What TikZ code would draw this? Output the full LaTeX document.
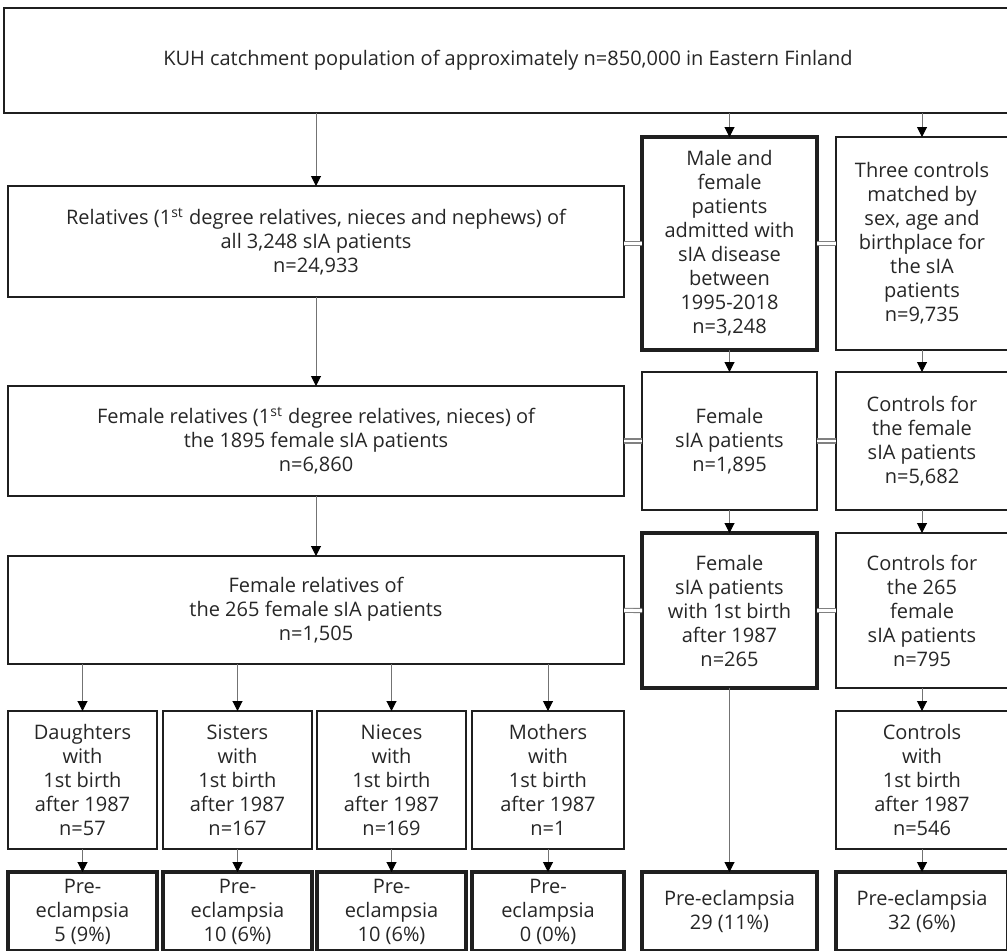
\documentclass[tikz,border=0pt]{standalone}
\usepackage{fontspec}
\setmainfont{Open Sans}
\usetikzlibrary{arrows.meta}
\begin{document}
\begin{tikzpicture}[x=0.5pt,y=-0.5pt,inner sep=0pt,outer sep=0pt,
  box/.style={draw=black!88,line width=0.75pt,align=center,text=black!85,font=\fontsize{10}{12}\selectfont},
  boldbox/.style={box,line width=2pt},
  wide/.style={minimum width=308pt},
  mid/.style={minimum width=87.5pt},
  ctlw/.style={minimum width=86pt},
  small/.style={minimum width=74.5pt},
  arr/.style={draw=black!55,line width=0.5pt,-{Triangle[length=5pt,width=5pt,color=black]}},
  dbl/.style={draw=black!50,line width=0.6pt,double=white,double distance=1.4pt}]
\useasboundingbox (0,0) rectangle (1007,950);
\clip (0,0) rectangle (1007,950);
\node[box,minimum width=504pt,minimum height=52.5pt] (top) at (508,60.5) {KUH catchment population of approximately n=850,000 in Eastern Finland};
\node[box,wide,minimum height=55.5pt] (rel) at (316,241.5) {Relatives (1\textsuperscript{st} degree relatives, nieces and nephews) of\\all 3,248 sIA patients\\n=24,933};
\node[boldbox,mid,minimum height=106.5pt] (male) at (729.5,243.5) {Male and\\female\\patients\\admitted with\\sIA disease\\between\\1995-2018\\n=3,248};
\node[box,ctlw,minimum height=106.5pt] (ctl) at (922,243.5) {Three controls\\matched by\\sex, age and\\birthplace for\\the sIA\\patients\\n=9,735};
\node[box,wide,minimum height=55pt] (frel) at (316,441) {Female relatives (1\textsuperscript{st} degree relatives, nieces) of\\the 1895 female sIA patients\\n=6,860};
\node[box,mid,minimum height=69pt] (fsia) at (729.5,441) {Female\\sIA patients\\n=1,895};
\node[box,ctlw,minimum height=69pt] (fctl) at (922,441) {Controls for\\the female\\sIA patients\\n=5,682};
\node[box,wide,minimum height=54pt] (frelb) at (316,610) {Female relatives of\\the 265 female sIA patients\\n=1,505};
\node[boldbox,mid,minimum height=77.5pt] (fsiab) at (729.5,610.5) {Female\\sIA patients\\with 1st birth\\after 1987\\n=265};
\node[box,ctlw,minimum height=77.5pt] (fctlb) at (922,610.5) {Controls for\\the 265\\female\\sIA patients\\n=795};
\node[box,small,minimum height=69pt] (dau) at (82.5,780) {Daughters\\with\\1st birth\\after 1987\\n=57};
\node[box,small,minimum height=69pt] (sis) at (237.5,780) {Sisters\\with\\1st birth\\after 1987\\n=167};
\node[box,small,minimum height=69pt] (nie) at (391.5,780) {Nieces\\with\\1st birth\\after 1987\\n=169};
\node[box,minimum width=76pt,minimum height=69pt] (mot) at (548,780) {Mothers\\with\\1st birth\\after 1987\\n=1};
\node[box,ctlw,minimum height=69pt] (cbir) at (922,780) {Controls\\with\\1st birth\\after 1987\\n=546};
\node[boldbox,small,minimum height=39.5pt] (daupe) at (82.5,911.5) {Pre-\\eclampsia\\5 (9\%)};
\node[boldbox,small,minimum height=39.5pt] (sispe) at (237.5,911.5) {Pre-\\eclampsia\\10 (6\%)};
\node[boldbox,small,minimum height=39.5pt] (niepe) at (391.5,911.5) {Pre-\\eclampsia\\10 (6\%)};
\node[boldbox,minimum width=76pt,minimum height=39.5pt] (motpe) at (548,911.5) {Pre-\\eclampsia\\0 (0\%)};
\node[boldbox,mid,minimum height=39.5pt] (fsiape) at (729.5,911.5) {Pre-eclampsia\\29 (11\%)};
\node[boldbox,ctlw,minimum height=39.5pt] (cbirpe) at (922,911.5) {Pre-eclampsia\\32 (6\%)};
\draw[arr] (rel.north |- top.south) -- (rel.north);
\draw[arr] (male.north |- top.south) -- (male.north);
\draw[arr] (ctl.north |- top.south) -- (ctl.north);
\draw[arr] (rel) -- (frel);
\draw[arr] (frel) -- (frelb);
\draw[arr] (male) -- (fsia);
\draw[arr] (ctl) -- (fctl);
\draw[arr] (fsia) -- (fsiab);
\draw[arr] (fctl) -- (fctlb);
\draw[arr] (fctlb) -- (cbir);
\draw[arr] (fsiab) -- (fsiape);
\draw[arr] (cbir) -- (cbirpe);
\foreach \n in {dau,sis,nie,mot}{
  \draw[arr] (\n.north |- frelb.south) -- (\n.north);
  \draw[arr] (\n) -- (\n pe);
}
\draw[dbl] (rel.east |- male.west) -- (male.west);
\draw[dbl] (male) -- (ctl);
\draw[dbl] (frel) -- (fsia);
\draw[dbl] (fsia) -- (fctl);
\draw[dbl] (frelb) -- (fsiab);
\draw[dbl] (fsiab) -- (fctlb);
\end{tikzpicture}
\end{document}
